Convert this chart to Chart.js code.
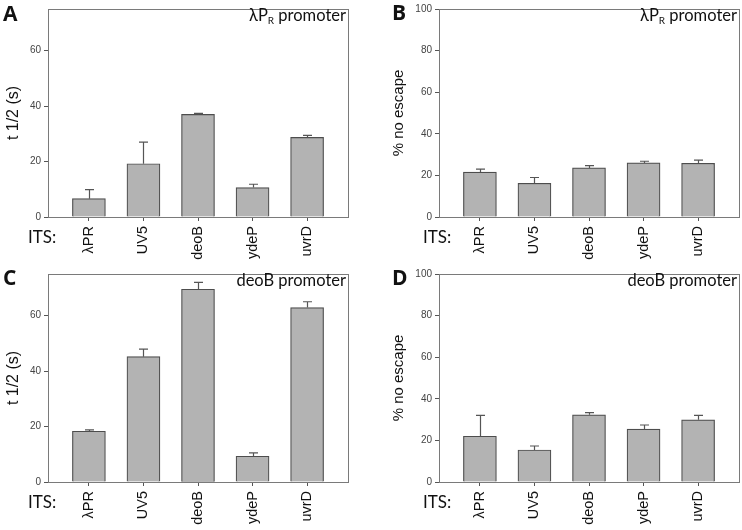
<!DOCTYPE html>
<html>
<head>
<meta charset="utf-8">
<script src="https://cdn.jsdelivr.net/npm/chart.js@4"></script>
<style>
body{margin:0;background:#fff;}
#wrap{position:relative;width:742px;height:530px;overflow:hidden;}
canvas{position:absolute;}
.lbl{position:absolute;white-space:nowrap;color:#111;line-height:1;}
.letter{font-family:"Open Sans","Liberation Sans",sans-serif;font-weight:bold;font-size:21px;}
.its{font-family:Lato,"Liberation Sans",sans-serif;font-size:17px;}
.prom{font-family:Lato,"Liberation Sans",sans-serif;font-size:16.5px;}
.prom sub{font-size:10px;vertical-align:-3px;}
</style>
</head>
<body>
<div id="wrap">
<canvas id="chartA" width="371" height="265" style="left:0;top:0"></canvas>
<canvas id="chartB" width="371" height="265" style="left:371px;top:0"></canvas>
<canvas id="chartC" width="371" height="265" style="left:0;top:265px"></canvas>
<canvas id="chartD" width="371" height="265" style="left:371px;top:265px"></canvas>

<div class="lbl letter" style="left:3px;top:3px">A</div>
<div class="lbl letter" style="left:392px;top:2px">B</div>
<div class="lbl letter" style="left:3px;top:267px">C</div>
<div class="lbl letter" style="left:392px;top:267px">D</div>

<div class="lbl its" style="left:28px;top:228px">ITS:</div>
<div class="lbl its" style="left:423px;top:228px">ITS:</div>
<div class="lbl its" style="left:28px;top:493px">ITS:</div>
<div class="lbl its" style="left:423px;top:493px">ITS:</div>

<div class="lbl prom" style="right:396px;top:7px">λP<sub>R</sub> promoter</div>
<div class="lbl prom" style="right:5px;top:7px">λP<sub>R</sub> promoter</div>
<div class="lbl prom" style="right:396px;top:272px">deoB promoter</div>
<div class="lbl prom" style="right:5px;top:272px">deoB promoter</div>
</div>

<script>
// ITS variants on the x axis
const categories = ["λPR", "UV5", "deoB", "ydeP", "uvrD"]

// lambda PR promoter
const halfLifePR = [6.6, 19.2, 37.0, 10.6, 28.7]
const halfLifePRErr = [3.3, 7.8, 0.4, 1.2, 0.7]
const noEscapePR = [21.6, 16.2, 23.6, 26.0, 25.8]
const noEscapePRErr = [1.4, 2.8, 1.1, 0.8, 1.5]

// deoB promoter
const halfLifeDeoB = [18.3, 45.2, 69.5, 9.3, 62.9]
const halfLifeDeoBErr = [0.5, 2.7, 2.5, 1.2, 2.1]
const noEscapeDeoB = [22.0, 15.4, 32.3, 25.4, 29.9]
const noEscapeDeoBErr = [10.0, 1.9, 1.1, 2.0, 2.1]

const halfLifeTicks = [0, 20, 40, 60]
const noEscapeTicks = [0, 20, 40, 60, 80, 100]


/* frame around the plot + error bars (upper only) */

const framePlugin = {
id: "frame",
afterDatasetsDraw(chart){
  let a = chart.chartArea
  let ctx = chart.ctx
  ctx.save()
  ctx.strokeStyle = "#7a7a7a"
  ctx.lineWidth = 1
  ctx.strokeRect(Math.round(a.left)+0.5, Math.round(a.top)+0.5, Math.round(a.right-a.left), Math.round(a.bottom-a.top))

  let ds = chart.data.datasets[0]
  let meta = chart.getDatasetMeta(0)
  let ys = chart.scales.y
  ctx.strokeStyle = "#555"
  ctx.lineWidth = 1.2
  meta.data.forEach((bar, i) => {
    let top = ys.getPixelForValue(ds.data[i].y + ds.errors[i])
    let x = Math.round(bar.x) + 0.5
    ctx.beginPath()
    ctx.moveTo(x, bar.y)
    ctx.lineTo(x, top)
    ctx.moveTo(x - 4.5, top)
    ctx.lineTo(x + 4.5, top)
    ctx.stroke()
  })
  ctx.restore()
}
}


function makePanel(id, values, errors, yMax, yTicks, yTitle, box){

new Chart(document.getElementById(id), {
type: "bar",
data: {
  datasets: [{
    data: values.map((v, i) => ({x: i, y: v})),
    errors: errors,
    backgroundColor: "#b3b3b3",
    borderColor: "#4d4d4d",
    borderWidth: 1.2,
    barThickness: 33
  }]
},
options: {
  responsive: false,
  animation: false,
  layout: {padding: {left: 0, right: box.right, top: box.top, bottom: 0}},
  plugins: {legend: {display: false}, tooltip: {enabled: false}},
  scales: {
    x: {
      type: "linear",
      offset: false,
      min: -0.75,
      max: 4.75,
      afterBuildTicks: s => { s.ticks = categories.map((c, i) => ({value: i})) },
      afterFit: s => { s.height = box.xHeight },
      border: {display: false},
      grid: {offset: false, drawOnChartArea: false, tickLength: 4, color: "#555"},
      ticks: {
        callback: v => categories[v],
        autoSkip: false,
        minRotation: 90,
        maxRotation: 90,
        padding: 5,
        color: "#111",
        font: {family: "Liberation Sans", size: 14.5}
      }
    },
    y: {
      min: 0,
      max: yMax,
      afterBuildTicks: s => { s.ticks = yTicks.map(v => ({value: v})) },
      afterFit: s => { s.width = box.yWidth },
      border: {display: false},
      grid: {drawOnChartArea: false, tickLength: 4, color: "#555"},
      ticks: {padding: 3, color: "#444", font: {family: "Liberation Sans", size: 10}},
      title: {
        display: true,
        text: yTitle,
        color: "#111",
        font: {family: "Liberation Sans", size: box.titleSize},
        padding: {top: box.titlePad, bottom: 0}
      }
    }
  }
},
plugins: [framePlugin]
})

}

makePanel("chartA", halfLifePR, halfLifePRErr, 75, halfLifeTicks, "t 1/2 (s)",
  {yWidth: 48, xHeight: 48, top: 6, right: 23, titleSize: 16, titlePad: 4})
makePanel("chartB", noEscapePR, noEscapePRErr, 100, noEscapeTicks, "% no escape",
  {yWidth: 68, xHeight: 48, top: 7, right: 3, titleSize: 15, titlePad: 19})
makePanel("chartC", halfLifeDeoB, halfLifeDeoBErr, 75, halfLifeTicks, "t 1/2 (s)",
  {yWidth: 48, xHeight: 48, top: 7, right: 23, titleSize: 16, titlePad: 4})
makePanel("chartD", noEscapeDeoB, noEscapeDeoBErr, 100, noEscapeTicks, "% no escape",
  {yWidth: 68, xHeight: 48, top: 7, right: 3, titleSize: 15, titlePad: 19})
</script>
</body>
</html>
